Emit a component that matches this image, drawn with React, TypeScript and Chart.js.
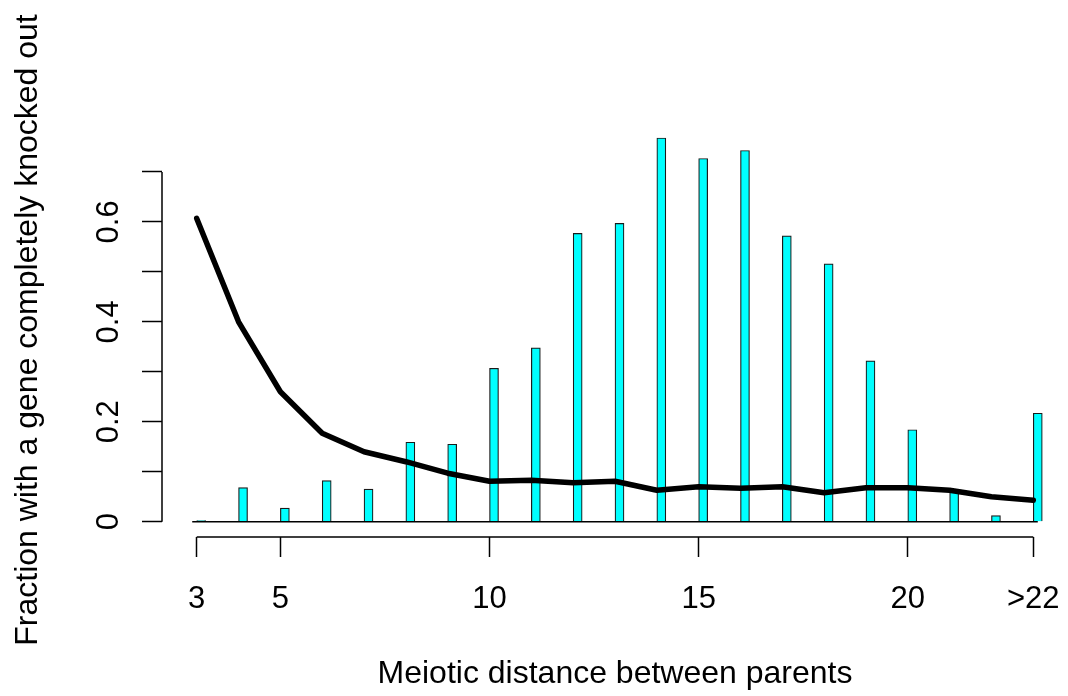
import React, { useEffect, useRef } from "react";
import { Chart, registerables } from "chart.js";

Chart.register(...registerables);

// ---- data ----
const distances = [3, 4, 5, 6, 7, 8, 9, 10, 11, 12, 13, 14, 15, 16, 17, 18, 19, 20, 21, 22, 23];
const knockoutFraction = [
  0.002, 0.068, 0.027, 0.082, 0.065, 0.159, 0.155, 0.307, 0.348, 0.577, 0.597,
  0.768, 0.727, 0.743, 0.572, 0.516, 0.322, 0.184, 0.062, 0.012, 0.217,
];
const expectedFraction = [
  0.607, 0.4, 0.26, 0.177, 0.14, 0.12, 0.097, 0.081, 0.083, 0.078, 0.081,
  0.063, 0.07, 0.067, 0.07, 0.058, 0.068, 0.068, 0.063, 0.05, 0.043,
];
const xTickValues = [3, 5, 10, 15, 20, 23];
const xTickLabels = ["3", "5", "10", "15", "20", ">22"];
const yTickValues = [0, 0.1, 0.2, 0.3, 0.4, 0.5, 0.6, 0.7];
const yTickLabels = ["0", "", "0.2", "", "0.4", "", "0.6", ""];
const xTitle = "Meiotic distance between parents";
const yTitle = "Fraction with a gene completely knocked out";

// ---- styling / layout ----
const W = 1068;
const H = 696;
const FONT = "'Liberation Sans', Arial, Helvetica, sans-serif";
const TICK_SIZE = 31;
const TITLE_SIZE = 32;
const X_MIN = 2.17;
const X_MAX = 23.83;
const Y_MIN = -0.0307;
const Y_MAX = 0.798;
const BAR_SHIFT = 0.0;
const BAR_WIDTH = 9;
const AXIS_LW = 1.5;

const rAxesPlugin = {
  id: "rAxes",
  afterDatasetDraw(chart: any, args: any) {
    if (args.index !== 1) return;
    const { ctx, scales } = chart;
    const xb = scales.xBar;
    const y = scales.y;
    const x0 = xb.getPixelForValue(distances[0]) - BAR_WIDTH / 2;
    const x1 = xb.getPixelForValue(distances[distances.length - 1]) + BAR_WIDTH / 2;
    const y0 = y.getPixelForValue(0);
    ctx.save();
    ctx.strokeStyle = "#000";
    ctx.lineWidth = AXIS_LW;
    ctx.beginPath();
    ctx.moveTo(x0, y0);
    ctx.lineTo(x1, y0);
    ctx.stroke();
    ctx.restore();
  },
  afterDraw(chart: any) {
    const { ctx, scales } = chart;
    const x = scales.x;
    const y = scales.y;
    ctx.save();
    ctx.strokeStyle = "#000";
    ctx.lineWidth = AXIS_LW;
    ctx.beginPath();
    ctx.moveTo(x.getPixelForValue(xTickValues[0]), x.top);
    ctx.lineTo(x.getPixelForValue(xTickValues[xTickValues.length - 1]), x.top);
    ctx.moveTo(y.right, y.getPixelForValue(yTickValues[0]));
    ctx.lineTo(y.right, y.getPixelForValue(yTickValues[yTickValues.length - 1]));
    ctx.stroke();
    ctx.restore();
  },
};

export default function App() {
  const canvasRef = useRef<HTMLCanvasElement | null>(null);

  useEffect(() => {
    const canvas = canvasRef.current;
    if (!canvas) return;
    const chart = new Chart(canvas, {
      type: "bar",
      data: {
        datasets: [
          {
            type: "line",
            label: "expected",
            data: distances.map((d, i) => ({ x: d, y: expectedFraction[i] })),
            xAxisID: "x",
            yAxisID: "y",
            borderColor: "#000",
            borderWidth: 5.5,
            borderCapStyle: "round",
            borderJoinStyle: "round",
            pointRadius: 0,
            tension: 0,
            fill: false,
            order: 0,
          } as any,
          {
            type: "bar",
            label: "observed",
            data: distances.map((d, i) => ({ x: d, y: knockoutFraction[i] })),
            xAxisID: "xBar",
            yAxisID: "y",
            backgroundColor: "#00FFFF",
            borderColor: "#1a1a1a",
            borderWidth: 1.2,
            barThickness: BAR_WIDTH,
            order: 1,
          } as any,
        ],
      },
      options: {
        responsive: false,
        animation: false,
        devicePixelRatio: 1,
        layout: { padding: { top: 123, left: 0, right: 0, bottom: 0 } },
        plugins: {
          legend: { display: false },
          tooltip: { enabled: false },
        },
        scales: {
          x: {
            type: "linear",
            position: "bottom",
            min: X_MIN,
            max: X_MAX,
            offset: false,
            afterBuildTicks: (s: any) => {
              s.ticks = xTickValues.map((v) => ({ value: v }));
            },
            afterFit: (s: any) => {
              s.height = H - 537;
              s.paddingLeft = 0;
              s.paddingRight = 0;
            },
            border: { display: false },
            grid: {
              display: true,
              drawOnChartArea: false,
              drawTicks: true,
              tickLength: 20,
              tickWidth: AXIS_LW,
              tickColor: "#000",
              offset: false,
            },
            ticks: {
              autoSkip: false,
              maxRotation: 0,
              minRotation: 0,
              padding: 24,
              color: "#000",
              font: { family: FONT, size: TICK_SIZE },
              callback: (_v: any, i: number) => xTickLabels[i],
            },
            title: {
              display: true,
              text: xTitle,
              color: "#000",
              font: { family: FONT, size: TITLE_SIZE },
              padding: { top: 0, bottom: 3 },
            },
          },
          xBar: {
            type: "linear",
            display: false,
            min: X_MIN - BAR_SHIFT,
            max: X_MAX - BAR_SHIFT,
            offset: false,
            grid: { offset: false },
          },
          y: {
            type: "linear",
            position: "left",
            min: Y_MIN,
            max: Y_MAX,
            afterBuildTicks: (s: any) => {
              s.ticks = yTickValues.map((v) => ({ value: v }));
            },
            afterFit: (s: any) => {
              s.width = 162;
              s.paddingTop = 0;
              s.paddingBottom = 0;
            },
            border: { display: false },
            grid: {
              display: true,
              drawOnChartArea: false,
              drawTicks: true,
              tickLength: 20,
              tickWidth: AXIS_LW,
              tickColor: "#000",
            },
            ticks: {
              autoSkip: false,
              minRotation: 90,
              maxRotation: 90,
              crossAlign: "center",
              padding: 11,
              color: "#000",
              font: { family: FONT, size: TICK_SIZE },
              callback: (_v: any, i: number) => yTickLabels[i],
            },
            title: {
              display: true,
              text: yTitle,
              color: "#000",
              font: { family: FONT, size: TITLE_SIZE },
              padding: { top: 9, bottom: 0 },
            },
          },
        },
      } as any,
      plugins: [rAxesPlugin],
    });
    return () => chart.destroy();
  }, []);

  return (
    <div
      style={{
        position: "fixed",
        left: 0,
        top: 0,
        width: W,
        height: H,
        background: "#fff",
      }}
    >
      <canvas ref={canvasRef} width={W} height={H} style={{ width: W, height: H }} />
    </div>
  );
}
